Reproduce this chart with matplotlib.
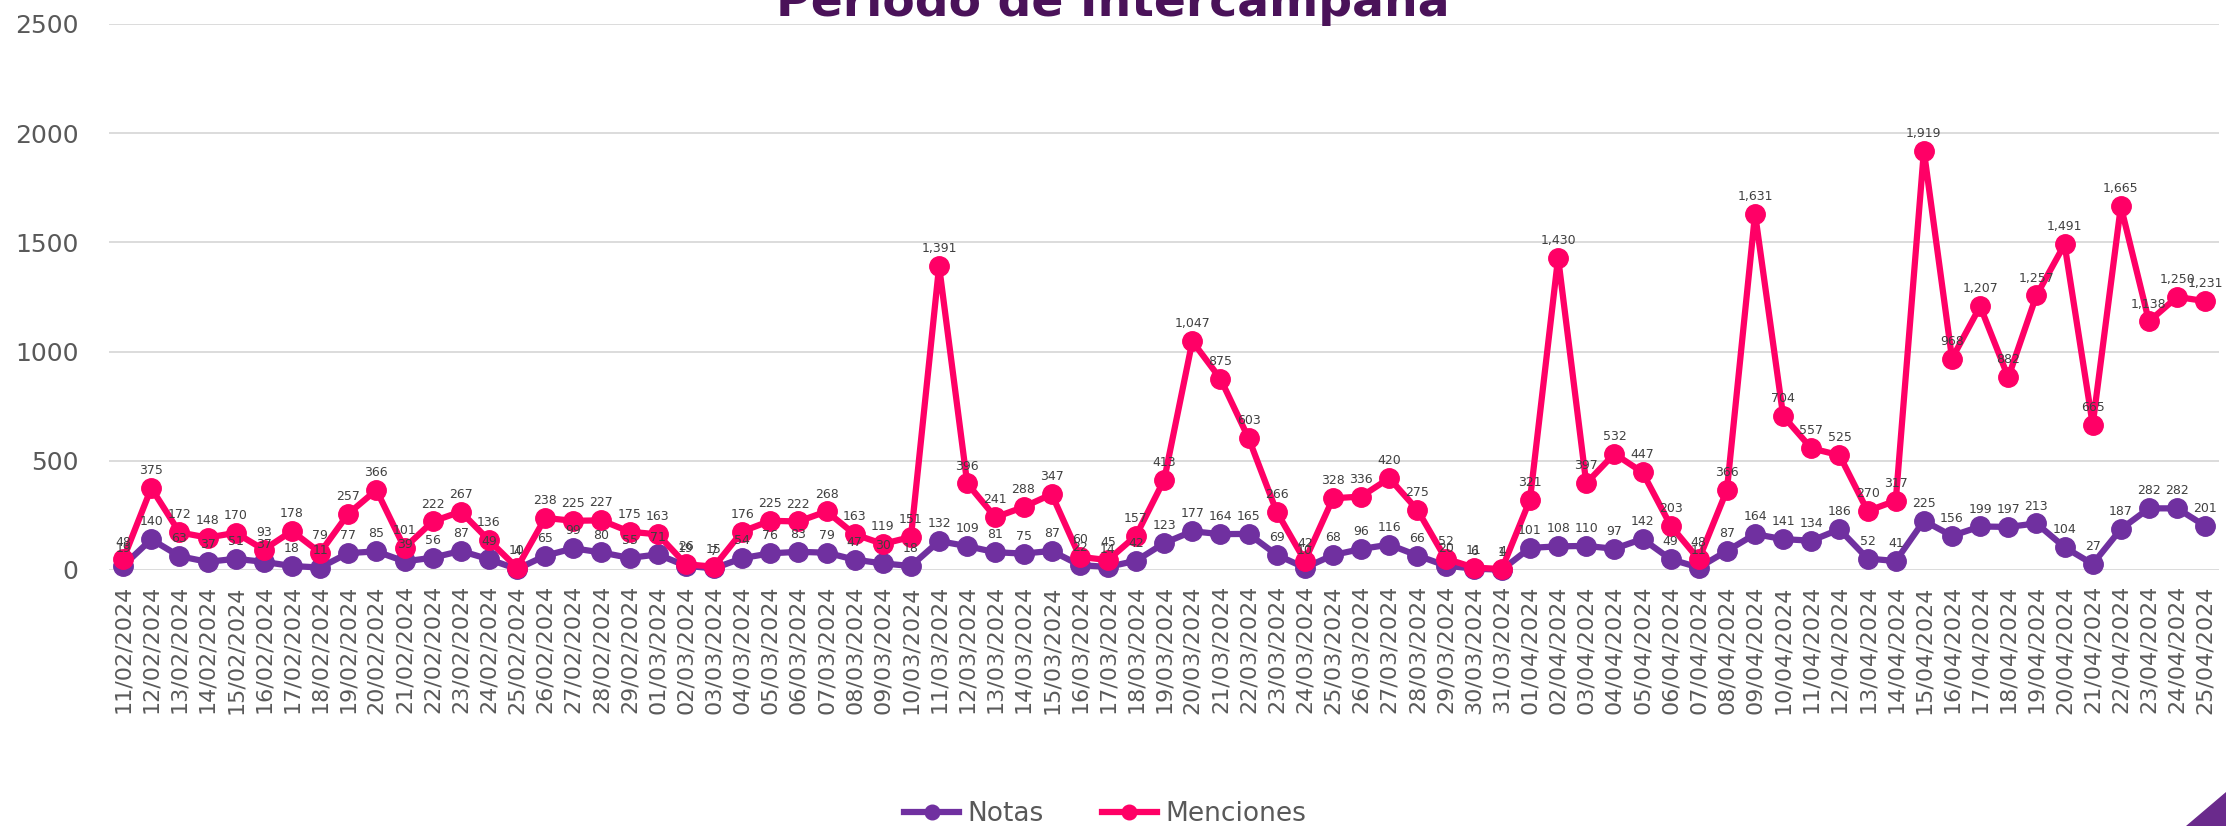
import numpy as np
import pandas as pd
import matplotlib.pyplot as plt
from matplotlib.patches import Polygon

# Dates and daily values
fechas = pd.date_range(start='2024-02-11', end='2024-04-25', freq='D').strftime('%d/%m/%Y').tolist()

notas = [19, 140, 63, 37, 51, 37, 18, 11, 77, 85,
         39, 56, 87, 49, 4, 65, 99, 80, 55, 71,
         19, 7, 54, 76, 83, 79, 47, 30, 18, 132,
         109, 81, 75, 87, 22, 14, 42, 123, 177, 164,
         165, 69, 10, 68, 96, 116, 66, 20, 6, 1,
         101, 108, 110, 97, 142, 49, 11, 87, 164, 141,
         134, 186, 52, 41, 225, 156, 199, 197, 213, 104,
         27, 187, 282, 282, 201]

menciones = [48, 375, 172, 148, 170, 93, 178, 79, 257, 366,
             101, 222, 267, 136, 10, 238, 225, 227, 175, 163,
             26, 15, 176, 225, 222, 268, 163, 119, 151, 1391,
             396, 241, 288, 347, 60, 45, 157, 413, 1047, 875,
             603, 266, 42, 328, 336, 420, 275, 52, 11, 4,
             321, 1430, 397, 532, 447, 203, 48, 366, 1631, 704,
             557, 525, 270, 317, 1919, 968, 1207, 882, 1257, 1491,
             665, 1665, 1138, 1250, 1231]

color_notas = '#7030A0'
color_menc = '#FF0066'
gris = '#595959'

fig = plt.figure(figsize=(22.26, 8.26), dpi=100)
ax = fig.add_axes([0.049, 0.310, 0.948, 0.661])

x = np.arange(len(fechas))
ax.plot(x, notas, color=color_notas, lw=4.5, marker='o', ms=14,
        label='Notas', zorder=3, clip_on=False)
ax.plot(x, menciones, color=color_menc, lw=4.5, marker='o', ms=14,
        label='Menciones', zorder=4, clip_on=False)

# data labels above each point
for xi, v in zip(x, notas):
    ax.annotate(f'{v:,}', (xi, v), xytext=(0, 10), textcoords='offset points',
                ha='center', va='baseline', fontsize=9, color='#404040', zorder=6)
for xi, v in zip(x, menciones):
    ax.annotate(f'{v:,}', (xi, v), xytext=(0, 10), textcoords='offset points',
                ha='center', va='baseline', fontsize=9, color='#404040', zorder=6)

ax.set_xlim(-0.5, len(fechas) - 0.5)
ax.set_ylim(0, 2500)
ax.set_yticks(range(0, 2501, 500))
ax.set_xticks(x)
ax.set_xticklabels(fechas, rotation=90, fontsize=16, color=gris)
ax.tick_params(axis='y', labelsize=18, labelcolor=gris, length=0, pad=22)
ax.tick_params(axis='x', length=0, pad=11)
ax.grid(axis='y', color='#D9D9D9', lw=1.3)
ax.set_axisbelow(True)
for s in ax.spines.values():
    s.set_visible(False)

# title partly cut at the top edge, as in the source
fig.text(0.5, 1 - 16 / 826, 'Período de Intercampaña', ha='center', va='baseline',
         fontsize=34, fontweight='bold', color='#4A1259')

fig.legend(loc='center', bbox_to_anchor=(1105 / 2226, 1 - 814 / 826), ncol=2,
           frameon=False, fontsize=19, handlelength=2.1, handletextpad=0.3,
           columnspacing=2.2, markerscale=0.75, labelcolor=gris)

# purple corner decoration
fig.patches.append(Polygon([(2186 / 2226, 0), (1, 0), (1, 34 / 826)], closed=True,
                           transform=fig.transFigure, color='#6A2A8C'))

fig.savefig('out.png', dpi=100)
